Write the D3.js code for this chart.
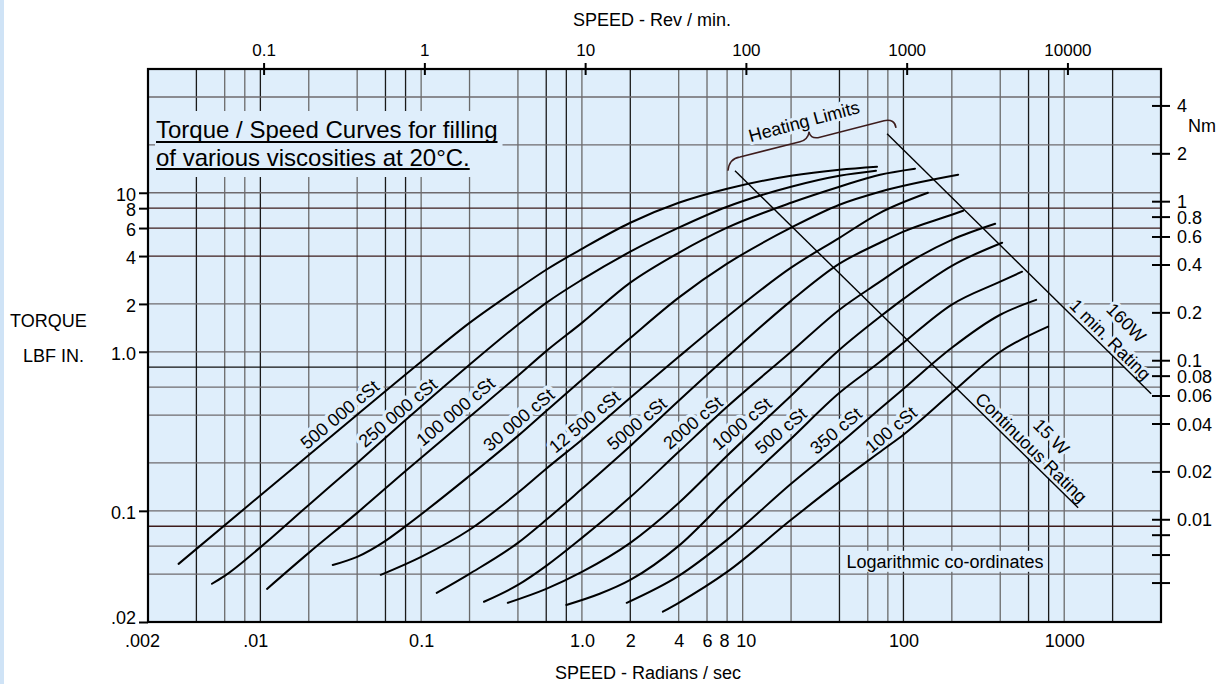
<!DOCTYPE html>
<html><head><meta charset="utf-8">
<script src="https://cdn.jsdelivr.net/npm/d3@7"></script>
<style>
body{margin:0;background:#fff;}
svg{display:block;font-family:Arial,"Liberation Sans",Helvetica,sans-serif;}
</style></head><body>
<svg id="c" width="1224" height="684"></svg>
<script>
// ---------- DATA (speed in rad/s, torque in lbf·in) ----------
const viscosityNames = ["500 000 cSt","250 000 cSt","100 000 cSt","30 000 cSt","12 500 cSt","5000 cSt","2000 cSt","1000 cSt","500 cSt","350 cSt","100 cSt"];

const s500k = [0.0031,0.0099,0.04,0.1,0.2,0.4,0.6,1,2,4,8,20,40,68.5];
const t500k = [0.0464,0.124,0.402,0.865,1.52,2.49,3.28,4.44,6.48,8.65,10.6,12.79,13.95,14.57];
const s250k = [0.005,0.006,0.0099,0.02,0.04,0.079,0.2,0.4,0.6,1,2,4,8,20,40,67.5];
const t250k = [0.0348,0.039,0.0585,0.109,0.2,0.368,0.829,1.48,2.03,2.84,4.26,6.03,8.17,10.91,12.79,13.75];
const s100k = [0.011,0.02,0.04,0.079,0.2,0.4,0.6,1,2,4,8,20,40,71.5,118];
const t100k = [0.0323,0.0544,0.0971,0.176,0.39,0.707,1.01,1.52,2.72,4.19,6.03,8.65,10.91,12.98,14.16];
const s30k = [0.0282,0.04,0.06,0.079,0.2,0.4,0.6,1,2,4,8,20,40,71.5,219];
const t30k = [0.0457,0.0514,0.0648,0.0793,0.166,0.296,0.425,0.667,1.22,2.19,3.58,6.03,8.41,10.15,12.98];
const s12k5 = [0.0561,0.1,0.2,0.4,0.6,1,2,4,8,20,40,71.5,142];
const t12k5 = [0.0396,0.0514,0.076,0.13,0.184,0.28,0.514,0.93,1.66,3.38,5.21,7.48,10.0];
const s5000 = [0.125,0.2,0.4,0.6,1,2,4,8,20,40,71.5,100,200,235];
const t5000 = [0.0305,0.0402,0.0629,0.0878,0.1375,0.256,0.492,0.93,2.09,3.58,4.85,5.69,7.27,7.7];
const s2000 = [0.246,0.4,0.6,1,2,4,8,20,40,71.5,100,200,372];
const t2000 = [0.0268,0.0342,0.0451,0.0676,0.122,0.235,0.451,1.0,1.84,2.76,3.47,5.06,6.38];
const s1000 = [0.346,0.6,1,2,4,8,20,40,71.5,100,200,411];
const t1000 = [0.0264,0.0323,0.0413,0.0629,0.112,0.222,0.529,1.03,1.66,2.15,3.47,4.85];
const s500 = [0.8,1.29,2,4,8,20,40,71.5,100,200,400,547];
const t500 = [0.0256,0.0301,0.0368,0.0602,0.119,0.284,0.552,0.865,1.14,1.98,2.76,3.19];
const s350 = [1.9,4,8,20,40,71.5,100,200,400,669];
const t350 = [0.0264,0.039,0.0657,0.148,0.264,0.438,0.585,1.06,1.71,2.12];
const s100 = [3.19,4,8,20,40,74.6,100,200,400,794];
const t100 = [0.0232,0.0264,0.0413,0.0878,0.152,0.242,0.301,0.552,1.0,1.44];

// curve label anchors (rad/s, lbf·in)
const labelSpeed  = [0.0312,0.0716,0.164,0.406,1.04,2.2,4.91,9.9,17.3,38.1,83.7];
const labelTorque = [0.402,0.413,0.42,0.373,0.363,0.352,0.358,0.352,0.318,0.318,0.323];

// heating limit lines
const continuousSpeed = [8.96,1221];
const continuousTorque = [13.75,0.1044];
const oneMinSpeed = [79.1,3475];
const oneMinTorque = [23.5,0.544];
// brace points
const braceSpeed  = [8.10,8.22,9.62,22.73,25.5,25.9,26.2,29.4,75.7,88.7,89.9];
const braceTorque = [13.75,16.4,16.8,20.9,21.5,24.2,21.9,22.2,28.4,29.2,25.6];

// annotations
const noteTexts  = ["Heating Limits","Continuous Rating","15 W","1 min. Rating","160W","Logarithmic co-ordinates"];
const noteSpeed  = [24.1,622,829,1931,2427,181.5];
const noteTorque = [28.0,0.249,0.292,1.19,1.52,0.0478];
const noteAngle  = [-15,44.5,45,45,45,0];

// axes ticks
const bottomTicks = [0.002,0.01,0.1,1,2,4,6,8,10,100,1000];
const bottomLabels = [".002",".01","0.1","1.0","2","4","6","8","10","100","1000"];
const topTicks = [0.1,1,10,100,1000,10000];
const leftTicks = [10,8,6,4,2,1,0.1,0.02];
const leftLabels = ["10","8","6","4","2","1.0","0.1",".02"];
const rightTicks = [4,2,1,0.8,0.6,0.4,0.2,0.1,0.08,0.06,0.04,0.02,0.01,0.008,0.006,0.004];
const rightLabels = ["4","2","1","0.8","0.6","0.4","0.2","0.1","0.08","0.06","0.04","0.02","0.01","","",""];
const gridSpeed = [0.004,0.006,0.008,0.01,0.02,0.04,0.06,0.08,0.1,0.2,0.4,0.6,0.8,1,2,4,6,8,10,20,40,60,80,100,200,400,600,800,1000,2000];
const gridTorque = [40,20,10,8,6,4,2,1,0.8,0.6,0.4,0.2,0.1,0.08,0.06,0.04];

// ---------- LAYOUT / STYLE ----------
const L=148,R=1161,T=69,B=622;
const BG="#dfeefb";
const darkX = new Set([0.004,0.01,0.06,0.08,0.6,0.8,2,40,100,600,800,2000]);
const brownY = new Set([8,6,4,0.08]);
const blackY = new Set([0.8]);
const FS=18;

const svg=d3.select("#c");
const x=d3.scaleLog().domain([0.002,4000]).range([L,R]);
const y=d3.scaleLog().domain([0.02,60]).range([B,T]);
const RPM=60/(2*Math.PI), NM=8.8507;
const xTop=d3.scaleLog().domain([0.002*RPM,4000*RPM]).range([L,R]);
const yR=d3.scaleLog().domain([0.02/NM,60/NM]).range([B,T]);

svg.append("rect").attr("x",0).attr("y",0).attr("width",4).attr("height",684).attr("fill","#cfe3f6");
svg.append("rect").attr("x",L).attr("y",T).attr("width",R-L).attr("height",B-T).attr("fill",BG);

// grid
const g=svg.append("g");
g.selectAll("line.vx").data(gridSpeed).join("line")
  .attr("x1",d=>x(d)).attr("x2",d=>x(d)).attr("y1",T).attr("y2",B)
  .attr("stroke",d=>darkX.has(d)?"#1a1a1a":"#6a6a6a").attr("stroke-width",1.3);
g.selectAll("line.hy").data(gridTorque).join("line")
  .attr("y1",d=>y(d)).attr("y2",d=>y(d)).attr("x1",L).attr("x2",R)
  .attr("stroke",d=>brownY.has(d)?"#3d1c1c":(blackY.has(d)?"#111":"#6e6a6e")).attr("stroke-width",1.3);

// title with background box
const title=svg.append("g");
const t1=title.append("text").attr("x",L+8).attr("y",138).attr("font-size",24).text("Torque / Speed Curves for filling");
const t2=title.append("text").attr("x",L+8).attr("y",166).attr("font-size",24).text("of various viscosities at 20°C.");
const b1=t1.node().getBBox(), b2=t2.node().getBBox();
title.insert("rect","text").attr("x",L+7).attr("y",b1.y-5).attr("width",Math.max(b1.width,b2.width)+6)
  .attr("height",(b2.y+b2.height)-(b1.y-5)+6).attr("fill",BG);
title.append("line").attr("x1",b1.x).attr("x2",b1.x+b1.width).attr("y1",142).attr("y2",142).attr("stroke","#000").attr("stroke-width",2);
title.append("line").attr("x1",b2.x).attr("x2",b2.x+b2.width).attr("y1",169).attr("y2",169).attr("stroke","#000").attr("stroke-width",2);

function halo(sel){return sel.attr("stroke",BG).attr("stroke-width",7).attr("stroke-linejoin","round").attr("paint-order","stroke");}

// curve labels
svg.append("g").selectAll("text").data(viscosityNames).join("text")
  .attr("transform",(d,i)=>`translate(${x(labelSpeed[i])},${y(labelTorque[i])}) rotate(-40)`)
  .attr("text-anchor","middle").attr("dominant-baseline","central").attr("font-size",FS)
  .call(halo).attr("fill","#000").text(d=>d);

// annotations
const notes=svg.append("g");
noteTexts.forEach((t,i)=>{
  const tx=notes.append("text")
    .attr("transform",`translate(${x(noteSpeed[i])},${y(noteTorque[i])}) rotate(${noteAngle[i]})`)
    .attr("text-anchor","middle").attr("dominant-baseline","central").attr("font-size",FS).attr("fill","#000").text(t);
  if(i===5){
    const bb=tx.node().getBBox();
    notes.insert("rect","text").attr("x",x(noteSpeed[i])+bb.x-3).attr("y",y(noteTorque[i])+bb.y-1)
      .attr("width",bb.width+6).attr("height",bb.height+1).attr("fill",BG);
  } else halo(tx).attr("stroke-width",6);
});

// curves
const series=[[s500k,t500k],[s250k,t250k],[s100k,t100k],[s30k,t30k],[s12k5,t12k5],[s5000,t5000],[s2000,t2000],[s1000,t1000],[s500,t500],[s350,t350],[s100,t100]];
const line=d3.line().x(d=>x(d[0])).y(d=>y(d[1])).curve(d3.curveMonotoneX);
svg.append("g").selectAll("path").data(series).join("path")
  .attr("d",d=>line(d[0].map((s,i)=>[s,d[1][i]])))
  .attr("fill","none").attr("stroke","#000").attr("stroke-width",2).attr("stroke-linecap","round");

// heating limit lines
const lim=d3.line().x(d=>x(d[0])).y(d=>y(d[1]));
[[continuousSpeed,continuousTorque],[oneMinSpeed,oneMinTorque]].forEach(([s,t])=>{
  svg.append("path").attr("d",lim(s.map((v,i)=>[v,t[i]]))).attr("stroke","#000").attr("stroke-width",1.4).attr("fill","none");
});
// brace
const bp=braceSpeed.map((s,i)=>[x(s),y(braceTorque[i])]);
const p=d3.path();
p.moveTo(...bp[0]); p.quadraticCurveTo(...bp[1],...bp[2]); p.lineTo(...bp[3]);
p.quadraticCurveTo(...bp[4],...bp[5]); p.quadraticCurveTo(...bp[6],...bp[7]); p.lineTo(...bp[8]);
p.quadraticCurveTo(...bp[9],...bp[10]);
svg.append("path").attr("d",p.toString()).attr("fill","none").attr("stroke","#3d1c1c").attr("stroke-width",1.5);

// border
svg.append("rect").attr("x",L).attr("y",T).attr("width",R-L).attr("height",B-T).attr("fill","none").attr("stroke","#000").attr("stroke-width",2.2);

// axes
function styleAxis(a){a.select(".domain").remove(); a.selectAll("text").attr("font-size",FS).attr("fill","#000").attr("font-family",null);
  a.selectAll("line").attr("stroke","#000").attr("stroke-width",2);}
const ax1=svg.append("g").attr("transform",`translate(0,${B})`)
  .call(d3.axisBottom(x).tickValues(bottomTicks).tickFormat((d,i)=>bottomLabels[i]).tickSize(0).tickPadding(12));
styleAxis(ax1);
const bOff=[-6,-5,0,0,0,0,0,-3,3,0,0];
ax1.selectAll(".tick text").attr("dx",(d,i)=>bOff[i]);

const ax2=svg.append("g").attr("transform",`translate(0,${T})`)
  .call(d3.axisTop(xTop).tickValues(topTicks).tickFormat(d3.format("")).tickSize(6).tickPadding(7));
styleAxis(ax2); ax2.selectAll(".tick text").attr("font-size",17);
ax2.selectAll(".tick line").attr("y2",6).attr("y1",-6);

const ax3=svg.append("g").attr("transform",`translate(${L},0)`)
  .call(d3.axisLeft(y).tickValues(leftTicks).tickFormat((d,i)=>leftLabels[i]).tickSize(9).tickPadding(3));
styleAxis(ax3); ax3.selectAll(".tick text").attr("dy",(d,i)=>i===leftTicks.length-1?"0.1em":"0.42em");

const ax4=svg.append("g").attr("transform",`translate(${R},0)`)
  .call(d3.axisRight(yR).tickValues(rightTicks).tickFormat((d,i)=>rightLabels[i]).tickSize(9).tickPadding(7));
styleAxis(ax4); ax4.selectAll(".tick line").attr("x1",-9).attr("x2",9);
ax4.selectAll(".tick text").attr("dy","0.36em");

// axis titles
svg.append("text").attr("x",652).attr("y",26).attr("text-anchor","middle").attr("font-size",FS).text("SPEED - Rev / min.");
svg.append("text").attr("x",648).attr("y",679).attr("text-anchor","middle").attr("font-size",FS).text("SPEED - Radians / sec");
svg.append("text").attr("x",10).attr("y",327).attr("font-size",FS).text("TORQUE");
svg.append("text").attr("x",23).attr("y",362).attr("font-size",FS).text("LBF IN.");
svg.append("text").attr("x",1188).attr("y",132).attr("font-size",FS).text("Nm");
</script>
</body></html>
